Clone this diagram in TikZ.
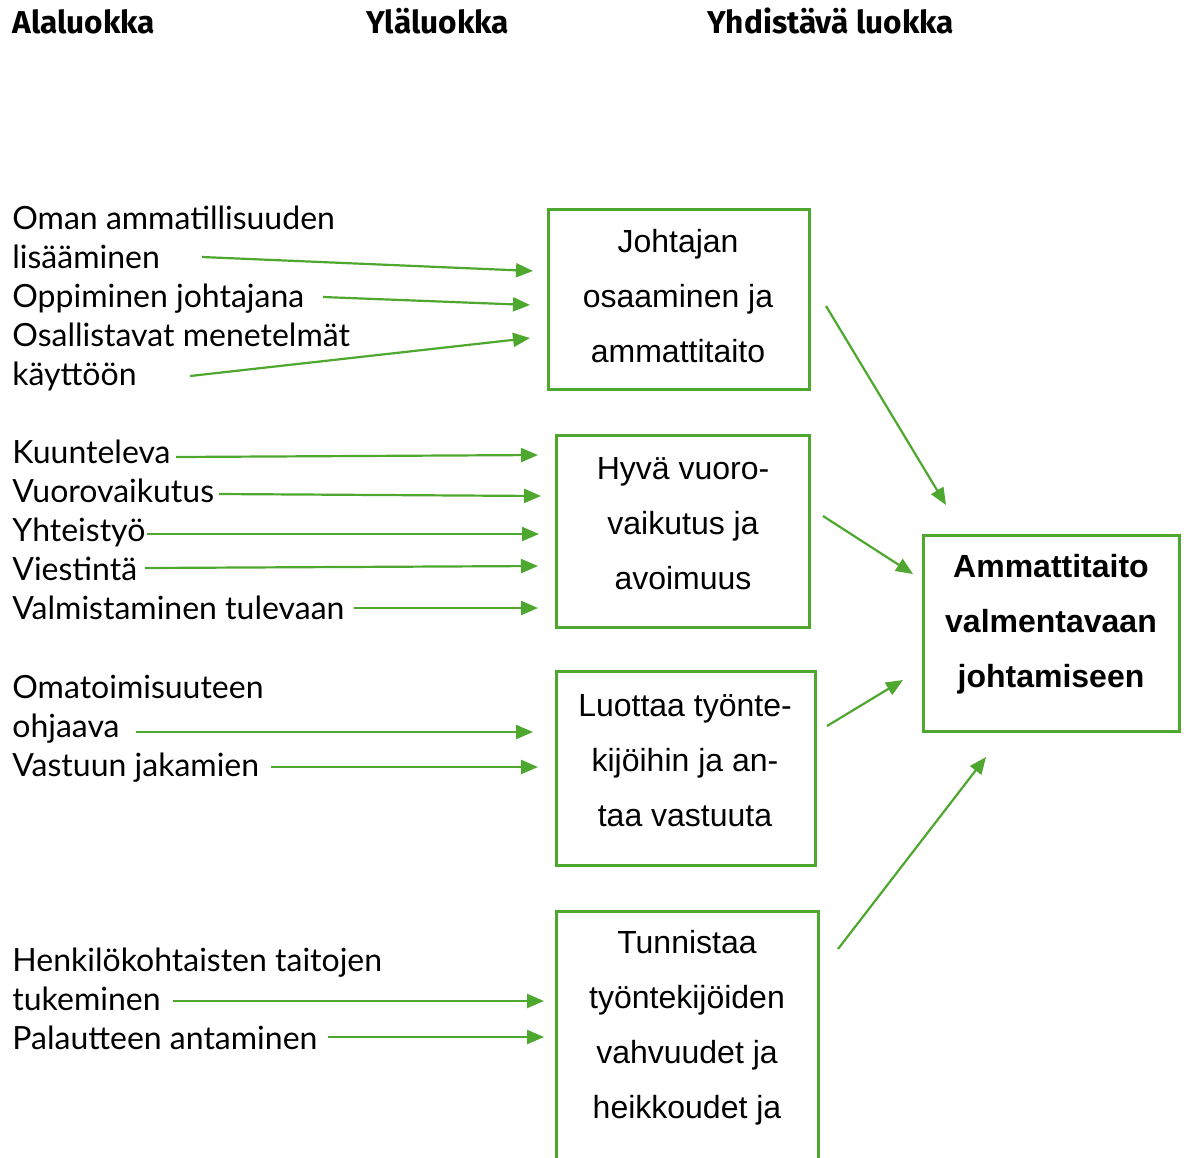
\documentclass[tikz,border=0pt]{standalone}
\usepackage{fontspec}
\setmainfont{Liberation Sans}
\newfontfamily\labelfont{Lato}
\newfontfamily\headfont{Fira Sans}
\usetikzlibrary{arrows.meta}
\definecolor{leafgreen}{RGB}{78,167,46}
\begin{document}
\begin{tikzpicture}[x=0.5pt,y=-0.5pt,
  head/.style={anchor=base west,inner sep=0pt,font=\headfont\bfseries\fontsize{15.8}{18}\selectfont},
  item/.style={anchor=base west,inner sep=0pt,font=\labelfont\fontsize{16}{19}\selectfont},
  box/.style={draw=leafgreen,line width=1.5pt,inner sep=0pt},
  boxtext/.style={align=center,inner sep=0pt,font=\fontsize{16}{27.5}\selectfont},
  link/.style={draw=leafgreen,line width=1.1pt,-{Triangle[length=8.5pt,width=7pt]}}]
\clip (0,0) rectangle (1186,1157);
\fill[white] (0,0) rectangle (1186,1157);

% column headings
\node[head] (h1) at (12,33) {Alaluokka};
\node[head] (h2) at (366,33) {Yläluokka};
\node[head] (h3) at (707,33) {Yhdistävä luokka};

% sub-category labels (baselines)
\node[item] (l1a) at (12,229) {Oman ammatillisuuden};
\node[item] (l1b) at (12,268) {lisääminen};
\node[item] (l2)  at (12,307) {Oppiminen johtajana};
\node[item] (l3a) at (12,346) {Osallistavat menetelmät};
\node[item] (l3b) at (12,385) {käyttöön};
\node[item] (l4)  at (12,463) {Kuunteleva};
\node[item] (l5)  at (12,502) {Vuorovaikutus};
\node[item] (l6)  at (12,541) {Yhteistyö};
\node[item] (l7)  at (12,580) {Viestintä};
\node[item] (l8)  at (12,619) {Valmistaminen tulevaan};
\node[item] (l9a) at (12,698) {Omatoimisuuteen};
\node[item] (l9b) at (12,737) {ohjaava};
\node[item] (l10) at (12,776) {Vastuun jakamien};
\node[item] (l11a) at (12,971) {Henkilökohtaisten taitojen};
\node[item] (l11b) at (12,1010) {tukeminen};
\node[item] (l12) at (12,1049) {Palautteen antaminen};

% upper-category boxes (sizes in pt: half the pixel size)
\node[box,minimum width=130.5pt,minimum height=90pt] (b1) at (678.5,299) {};
\node[boxtext] (t1) at (678,296) {Johtajan\\osaaminen ja\\ammattitaito};
\node[box,minimum width=126.5pt,minimum height=96pt] (b2) at (682.5,531) {};
\node[boxtext] (t2) at (683,524) {Hyvä vuoro-\\vaikutus ja\\avoimuus};
\node[box,minimum width=129.5pt,minimum height=97pt] (b3) at (685.5,768) {};
\node[boxtext] (t3) at (685,761) {Luottaa työnte-\\kijöihin ja an-\\taa vastuuta};
\node[box,minimum width=131pt,minimum height=150pt] (b4) at (687,1061) {};
\node[boxtext,anchor=north] (t4) at (687,930) {Tunnistaa\\työntekijöiden\\vahvuudet ja\\heikkoudet ja};

% combining category
\node[box,minimum width=128pt,minimum height=98pt] (b5) at (1051,633) {};
\node[boxtext,font=\bfseries\fontsize{16}{27.5}\selectfont] (t5) at (1051,624) {Ammattitaito\\valmentavaan\\johtamiseen};

% arrow end points
\coordinate (s1) at (202,257);  \coordinate (e1) at (533,271);
\coordinate (s2) at (323,297);  \coordinate (e2) at (530,305);
\coordinate (s3) at (190,376);  \coordinate (e3) at (530,338);
\coordinate (s4) at (176,457);  \coordinate (e4) at (538,455);
\coordinate (s5) at (219,494);  \coordinate (e5) at (541,496);
\coordinate (s6) at (147,534);  \coordinate (e6) at (539,534);
\coordinate (s7) at (145,568);  \coordinate (e7) at (538,566);
\coordinate (s8) at (354,608);  \coordinate (e8) at (538,608);
\coordinate (s9) at (136,732);  \coordinate (e9) at (533,732);
\coordinate (s10) at (271,767); \coordinate (e10) at (538,767);
\coordinate (s11) at (173,1001); \coordinate (e11) at (544,1001);
\coordinate (s12) at (328,1037); \coordinate (e12) at (544,1037);
\coordinate (s13) at (826,306); \coordinate (e13) at (946,505);
\coordinate (s14) at (823,516); \coordinate (e14) at (913,574);
\coordinate (s15) at (827,726); \coordinate (e15) at (903,680);
\coordinate (s16) at (838,949); \coordinate (e16) at (986,757);

\foreach \i in {1,...,16} \draw[link] (s\i) -- (e\i);
\end{tikzpicture}
\end{document}
